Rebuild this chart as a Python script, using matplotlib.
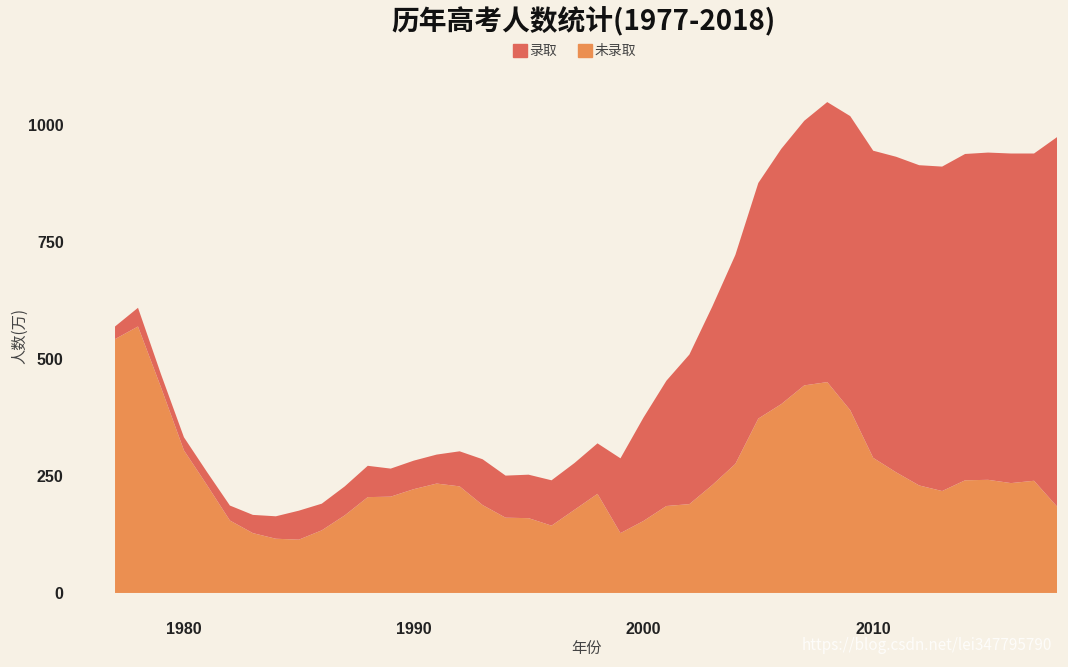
import matplotlib
matplotlib.use('Agg')
import matplotlib.pyplot as plt
from matplotlib.patches import Patch

plt.rcParams['font.family'] = ['Noto Sans CJK SC', 'DejaVu Sans']

# data (万人)
years = list(range(1977, 2019))
applicants = [570, 610, 468, 333, 259, 187, 167, 164, 176, 191,
              228, 272, 266, 283, 296, 303, 286, 251, 253, 241,
              278, 320, 288, 375, 454, 510, 613, 723, 877, 950,
              1010, 1050, 1020, 946, 933, 915, 912, 939, 942, 940,
              940, 975]
admitted = [27, 40, 28, 28, 28, 32, 39, 48, 62, 57,
            62, 67, 60, 61, 62, 75, 98, 90, 93, 97,
            100, 108, 160, 221, 268, 320, 382, 447, 504, 546,
            566, 599, 629, 657, 675, 685, 694, 698, 700, 705,
            700, 790]
not_admitted = [a - b for a, b in zip(applicants, admitted)]

bg = '#F7F1E5'
red = '#E0675A'
orange = '#EB8F51'

fig = plt.figure(figsize=(10.68, 6.67), dpi=100, facecolor=bg)
ax = fig.add_axes([0.1077, 0.111, 0.882, 0.771], facecolor=bg)

ax.stackplot(years, not_admitted, admitted, colors=[orange, red], linewidth=0)

ax.set_xlim(1977, 2018)
ax.set_ylim(0, 1100)
ax.set_xticks([1980, 1990, 2000, 2010])
ax.set_yticks([0, 250, 500, 750, 1000])
for s in ax.spines.values():
    s.set_visible(False)
ax.tick_params(length=0)
ax.tick_params(axis='y', pad=37)
ax.tick_params(axis='x', pad=21)
for lab in ax.get_xticklabels() + ax.get_yticklabels():
    lab.set_family(['Liberation Sans', 'DejaVu Sans'])
    lab.set_fontweight('bold')
    lab.set_fontsize(11.5)
    lab.set_color('#222222')

ax.set_xlabel('年份', fontsize=11, color='#444444', labelpad=2)
ax.set_ylabel('人数(万)', fontsize=11, color='#444444')
ax.yaxis.set_label_coords(-0.092, 0.5)

fig.text(0.546, 0.967, '历年高考人数统计(1977-2018)', ha='center', va='center',
         fontsize=20, fontweight='bold', color='#111111')

handles = [Patch(color=red, label='录取'), Patch(color=orange, label='未录取')]
fig.legend(handles=handles, loc='center', bbox_to_anchor=(0.538, 0.923), ncol=2,
           frameon=False, fontsize=10, handlelength=1.0, handleheight=1.0,
           handletextpad=0.2, columnspacing=1.5, labelcolor='#444444')

fig.text(0.985, 0.02, 'https://blog.csdn.net/lei347795790', ha='right', va='bottom',
         fontsize=11, color='white', alpha=0.8)

fig.savefig('out.png', dpi=100, facecolor=bg)
